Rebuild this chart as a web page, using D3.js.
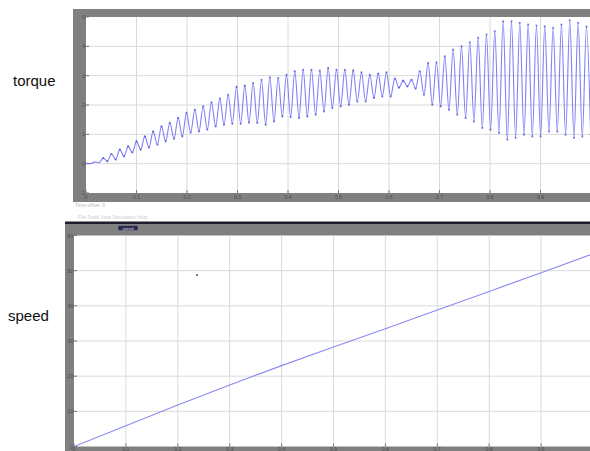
<!DOCTYPE html>
<html>
<head>
<meta charset="utf-8">
<script src="https://cdn.jsdelivr.net/npm/d3@7"></script>
<style>
  body { margin: 0; background: #fff; }
  svg { display: block; font-family: "Liberation Sans", Arial, sans-serif; }
</style>
</head>
<body>
<div id="chart"></div>
<script>
// values
const timeTicks = [0, 0.1, 0.2, 0.3, 0.4, 0.5, 0.6, 0.7, 0.8, 0.9, 1];
const torqueTicks = [-1, 0, 1, 2, 3, 4, 5];
const speedTicks = [0, 10, 20, 30, 40, 50, 60];

// torque oscillates at a steady rate: one peak + one trough per cycle
const torqueStart = 0.001;
const torquePeriod = 0.0165;
const torquePeaks = [0.01, 0.06, 0.19, 0.33, 0.48, 0.59, 0.76, 0.93, 1.10, 1.27, 1.39, 1.56, 1.73, 1.84, 1.95, 2.09,
  2.22, 2.35, 2.62, 2.66, 2.75, 2.86, 2.94, 2.92, 3.03, 3.15, 3.20, 3.20, 3.17, 3.26, 3.20, 3.20, 3.18, 3.11, 3.03,
  3.07, 3.11, 2.90, 2.83, 2.86, 3.15, 3.43, 3.45, 3.66, 3.89, 4.00, 4.14, 4.29, 4.40, 4.51, 4.85, 4.85, 4.80, 4.74,
  4.71, 4.68, 4.63, 4.74, 4.89, 4.80, 4.67];
const torqueTroughs = [0.00, 0.03, 0.08, 0.14, 0.25, 0.38, 0.48, 0.55, 0.65, 0.76, 0.85, 0.93, 1.06, 1.10, 1.16, 1.27,
  1.33, 1.36, 1.36, 1.40, 1.39, 1.33, 1.44, 1.61, 1.59, 1.56, 1.61, 1.67, 1.78, 1.90, 1.95, 2.01, 2.12, 2.12, 2.24,
  2.29, 2.29, 2.59, 2.63, 2.56, 2.35, 2.01, 1.95, 1.84, 1.67, 1.56, 1.44, 1.22, 1.16, 1.05, 0.82, 0.88, 0.99, 0.93,
  0.93, 1.10, 1.10, 0.99, 0.88, 0.93, 0.99];

const speedTime = [0, 0.1, 0.2, 0.3, 0.4, 0.5, 0.6, 0.7, 0.8, 0.9, 1];
const speedValues = [0, 5.9, 11.8, 17.5, 23.0, 28.3, 33.5, 38.8, 44.1, 49.4, 54.8];
const strayPoint = [0.237, 48.8];

const W = 590, H = 451;
const svg = d3.select("#chart").append("svg").attr("width", W).attr("height", H);

// build torque series from peaks / troughs
const torque = [[0, 0]];
torquePeaks.forEach((p, i) => {
  const t = torqueStart + i * torquePeriod;
  torque.push([t, p]);
  torque.push([t + torquePeriod / 2, torqueTroughs[i]]);
});

function drawScope(cfg) {
  const g = svg.append("g");
  const x = d3.scaleLinear().domain([0, 1]).range(cfg.xRange);
  const y = d3.scaleLinear().domain(cfg.yDomain).range(cfg.yRange);
  const [x0] = cfg.xRange;
  const [yb, yt] = cfg.yRange;

  g.append("rect").attr("x", cfg.frame[0]).attr("y", cfg.frame[1])
    .attr("width", W - cfg.frame[0]).attr("height", cfg.frame[2] - cfg.frame[1]).attr("fill", "#808080");
  g.append("rect").attr("x", x0).attr("y", yt).attr("width", W - x0).attr("height", yb - yt).attr("fill", "#fff");

  const clipId = cfg.name + "-clip";
  svg.append("clipPath").attr("id", clipId).append("rect")
    .attr("x", x0).attr("y", yt).attr("width", W - x0).attr("height", yb - yt);

  // grid
  g.append("g").selectAll("line").data(cfg.xTicks.slice(1)).join("line")
    .attr("x1", d => x(d)).attr("x2", d => x(d)).attr("y1", yt).attr("y2", yb)
    .attr("stroke", "#dadada").attr("stroke-width", 1);
  g.append("g").selectAll("line").data(cfg.yTicks.slice(1, -1)).join("line")
    .attr("x1", x0).attr("x2", W).attr("y1", d => y(d)).attr("y2", d => y(d))
    .attr("stroke", "#dadada").attr("stroke-width", 1);

  // tick marks
  g.append("g").selectAll("line").data(cfg.xTicks).join("line")
    .attr("x1", d => x(d)).attr("x2", d => x(d)).attr("y1", yb - 3).attr("y2", yb)
    .attr("stroke", "#777");
  g.append("g").selectAll("line").data(cfg.yTicks).join("line")
    .attr("x1", x0).attr("x2", x0 + 3).attr("y1", d => y(d)).attr("y2", d => y(d))
    .attr("stroke", "#777");

  // tiny tick labels (the last one sits past the window edge)
  g.append("g").selectAll("text").data(cfg.xTicks.filter(d => x(d) < W - 6)).join("text")
    .attr("x", d => x(d)).attr("y", yb + cfg.labelDy).attr("text-anchor", "middle")
    .attr("font-size", 5).attr("fill", "#333").attr("opacity", 0.7)
    .text(d => d3.format("~g")(d));
  g.append("g").selectAll("text").data(cfg.yTicks).join("text")
    .attr("x", x0 - 1).attr("y", d => y(d) + 2).attr("text-anchor", "end")
    .attr("font-size", 5).attr("fill", "#333").attr("opacity", 0.7)
    .text(d => d);

  const plot = g.append("g").attr("clip-path", `url(#${clipId})`);
  return { g, plot, x, y };
}

// top scope: torque
const torqueScope = drawScope({
  name: "torque", frame: [73, 9, 202], labelDy: 5.5,
  xRange: [86, 591], yRange: [193, 17], yDomain: [-1, 5],
  xTicks: timeTicks, yTicks: torqueTicks
});
const torqueLine = d3.line().x(d => torqueScope.x(d[0])).y(d => torqueScope.y(d[1])).curve(d3.curveMonotoneX);
torqueScope.plot.append("path").datum(torque).attr("d", torqueLine)
  .attr("fill", "none").attr("stroke", "#6a6af6").attr("stroke-width", 1.1).attr("opacity", 0.85);
torqueScope.plot.append("g").selectAll("circle").data(torque.slice(5)).join("circle")
  .attr("cx", d => torqueScope.x(d[0])).attr("cy", d => torqueScope.y(d[1])).attr("r", 1.1)
  .attr("fill", "#2a2ad0").attr("opacity", 0.55);
svg.append("text").attr("x", 75).attr("y", 207).attr("font-size", 5)
  .attr("fill", "#bbb").text("Time offset:  0");

// bottom scope: speed
svg.append("rect").attr("x", 65).attr("y", 221.5).attr("width", W - 65).attr("height", 2.5).attr("fill", "#1c1c2c");
const speedScope = drawScope({
  name: "speed", frame: [65, 224, H], labelDy: 4,
  xRange: [74, 593], yRange: [446.5, 235.5], yDomain: [0, 60],
  xTicks: timeTicks, yTicks: speedTicks
});
svg.append("rect").attr("x", 118).attr("y", 225.5).attr("width", 20).attr("height", 5)
  .attr("fill", "#2a2a4a").attr("stroke", "#8888aa").attr("stroke-width", 0.5);
svg.append("text").attr("x", 128).attr("y", 229.5).attr("text-anchor", "middle").attr("font-size", 4)
  .attr("fill", "#ddd").text("speed");
svg.append("text").attr("x", 78).attr("y", 219).attr("font-size", 5)
  .attr("fill", "#ccc").text("File  Tools  View  Simulation  Help");

const speedLine = d3.line().x((d, i) => speedScope.x(speedTime[i])).y(d => speedScope.y(d));
speedScope.plot.append("path").datum(speedValues).attr("d", speedLine)
  .attr("fill", "none").attr("stroke", "#8a8af2").attr("stroke-width", 1.1);
speedScope.plot.append("circle").attr("cx", speedScope.x(strayPoint[0])).attr("cy", speedScope.y(strayPoint[1]))
  .attr("r", 1).attr("fill", "#555");

// side labels
svg.append("text").attr("x", 13).attr("y", 86).attr("font-size", 15).attr("fill", "#111").text("torque");
svg.append("text").attr("x", 8).attr("y", 321).attr("font-size", 15).attr("fill", "#111").text("speed");
</script>
</body>
</html>
